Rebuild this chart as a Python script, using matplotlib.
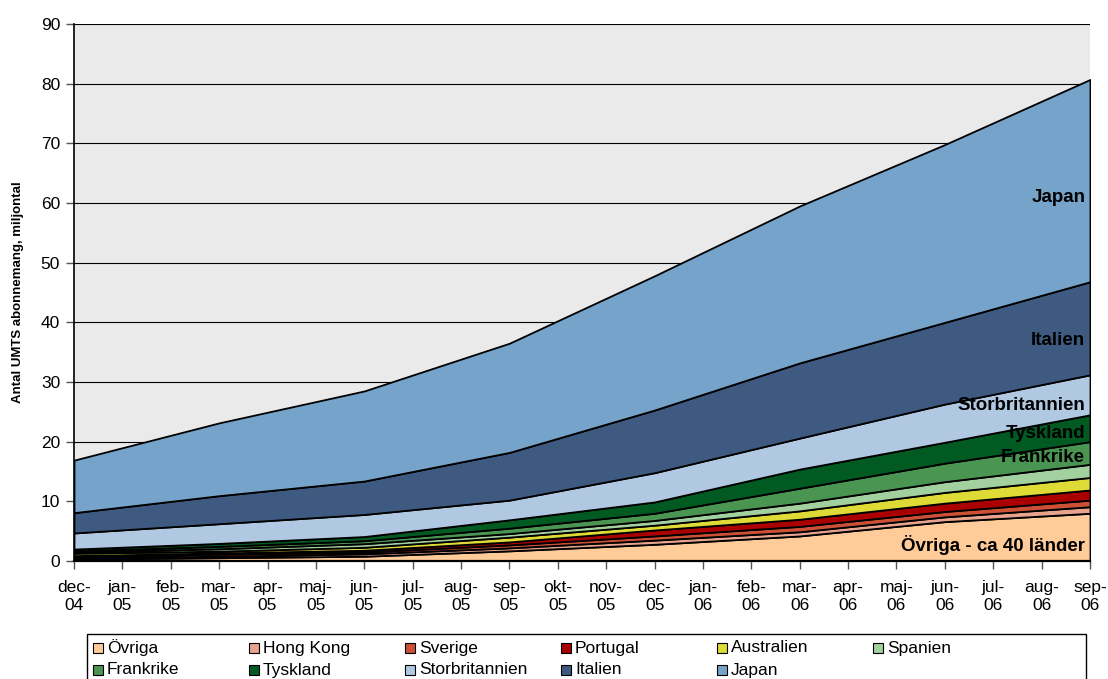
import matplotlib
matplotlib.use("Agg")
import matplotlib.pyplot as plt
from matplotlib.patches import Rectangle
import numpy as np

# ---- data ----
months = ["dec-\n04", "jan-\n05", "feb-\n05", "mar-\n05", "apr-\n05", "maj-\n05", "jun-\n05",
          "jul-\n05", "aug-\n05", "sep-\n05", "okt-\n05", "nov-\n05", "dec-\n05", "jan-\n06",
          "feb-\n06", "mar-\n06", "apr-\n06", "maj-\n06", "jun-\n06", "jul-\n06", "aug-\n06",
          "sep-\n06"]
# quarterly observations (month index in the axis above)
quarter_pos = [0, 3, 6, 9, 12, 15, 18, 21]

series_names = ["Övriga", "Hong Kong", "Sverige", "Portugal", "Australien", "Spanien",
                "Frankrike", "Tyskland", "Storbritannien", "Italien", "Japan"]

ovriga = [0.3, 0.55, 0.8, 1.7, 2.8, 4.2, 6.6, 8.0]
hong_kong = [0.2, 0.25, 0.4, 0.5, 0.7, 0.7, 0.8, 1.1]
sverige = [0.2, 0.35, 0.3, 0.5, 0.7, 0.9, 0.9, 1.1]
portugal = [0.2, 0.2, 0.3, 0.5, 1.0, 1.2, 1.4, 1.7]
australien = [0.4, 0.3, 0.5, 0.8, 0.8, 1.4, 1.8, 2.1]
spanien = [0.2, 0.4, 0.6, 0.6, 0.8, 1.3, 1.8, 2.2]
frankrike = [0.2, 0.4, 0.5, 0.9, 1.2, 2.5, 3.1, 3.8]
tyskland = [0.3, 0.5, 0.7, 1.4, 1.9, 3.2, 3.5, 4.5]
storbritannien = [2.7, 3.3, 3.7, 3.3, 4.9, 5.2, 6.4, 6.7]
italien = [3.4, 4.7, 5.6, 8.0, 10.5, 12.6, 13.7, 15.6]
japan = [8.8, 12.2, 15.1, 18.3, 22.5, 26.3, 29.8, 33.9]

values = [ovriga, hong_kong, sverige, portugal, australien, spanien,
          frankrike, tyskland, storbritannien, italien, japan]

colors = ["#FFCC99", "#E8A38E", "#CC5035", "#AA0000", "#DEDA36", "#A2D09E",
          "#4B9552", "#005A22", "#B0C8E1", "#3F5A81", "#76A3C9"]

# in-chart labels: (text, y position)
inline_labels = [("Japan", 61.0), ("Italien", 37.0), ("Storbritannien", 26.1),
                 ("Tyskland", 21.3), ("Frankrike", 17.3), ("Övriga - ca 40 länder", 2.7)]

plt.rcParams['font.family'] = ['Liberation Sans', 'DejaVu Sans']

W, H = 1108, 679
fig = plt.figure(figsize=(W / 100, H / 100), dpi=100)
ax = fig.add_axes([74 / W, 1 - 561 / H, (1090 - 74) / W, (561 - 24) / H])
ax.set_facecolor("#EAEAEA")

ax.stackplot(quarter_pos, *values, colors=colors, edgecolor="black", linewidth=1.3,
             zorder=3)

ax.set_xlim(0, 21)
ax.set_ylim(0, 90)
ax.set_yticks(np.arange(0, 91, 10))
ax.set_xticks(range(len(months)))
ax.set_xticklabels(months, fontsize=12.5, linespacing=1.2)
ax.tick_params(axis='y', labelsize=12.5, length=6, width=1, color="#555555", pad=4)
ax.tick_params(axis='x', length=6, width=1, color="#555555", pad=8)
ax.yaxis.grid(True, color="black", linewidth=0.8, zorder=1)
ax.set_axisbelow(True)
for s in ["top", "right"]:
    ax.spines[s].set_visible(False)
ax.spines["left"].set_linewidth(1.2)
ax.spines["bottom"].set_linewidth(1.6)
ax.spines["left"].set_zorder(5)
ax.spines["bottom"].set_zorder(5)

ax.set_ylabel("Antal UMTS abonnemang, miljontal", fontsize=9.5, fontweight="bold",
              labelpad=12)

for txt, yv in inline_labels:
    ax.text(20.9, yv, txt, ha="right", va="center", fontsize=13.5, fontweight="bold",
            color="black", zorder=6)

# legend (Excel-style uniform grid)
lx0, ly0 = 87, 634
fig.patches.append(Rectangle((lx0 / W, 1 - (ly0 + 60) / H), (1086 - lx0) / W, 60 / H,
                             transform=fig.transFigure, facecolor="white",
                             edgecolor="black", linewidth=1.0))
for i, (name, col) in enumerate(zip(series_names, colors)):
    c, r = i % 6, i // 6
    sx = 93 + c * 156
    sy = 648 + r * 22
    fig.patches.append(Rectangle((sx / W, 1 - (sy + 5) / H), 10 / W, 10 / H,
                                 transform=fig.transFigure, facecolor=col,
                                 edgecolor="black", linewidth=0.8))
    fig.text((sx + 14) / W, 1 - sy / H, name, fontsize=12.5, va="center", ha="left",
             family=['Liberation Sans Narrow', 'Liberation Sans', 'DejaVu Sans'])

fig.savefig("out.png", dpi=100)
